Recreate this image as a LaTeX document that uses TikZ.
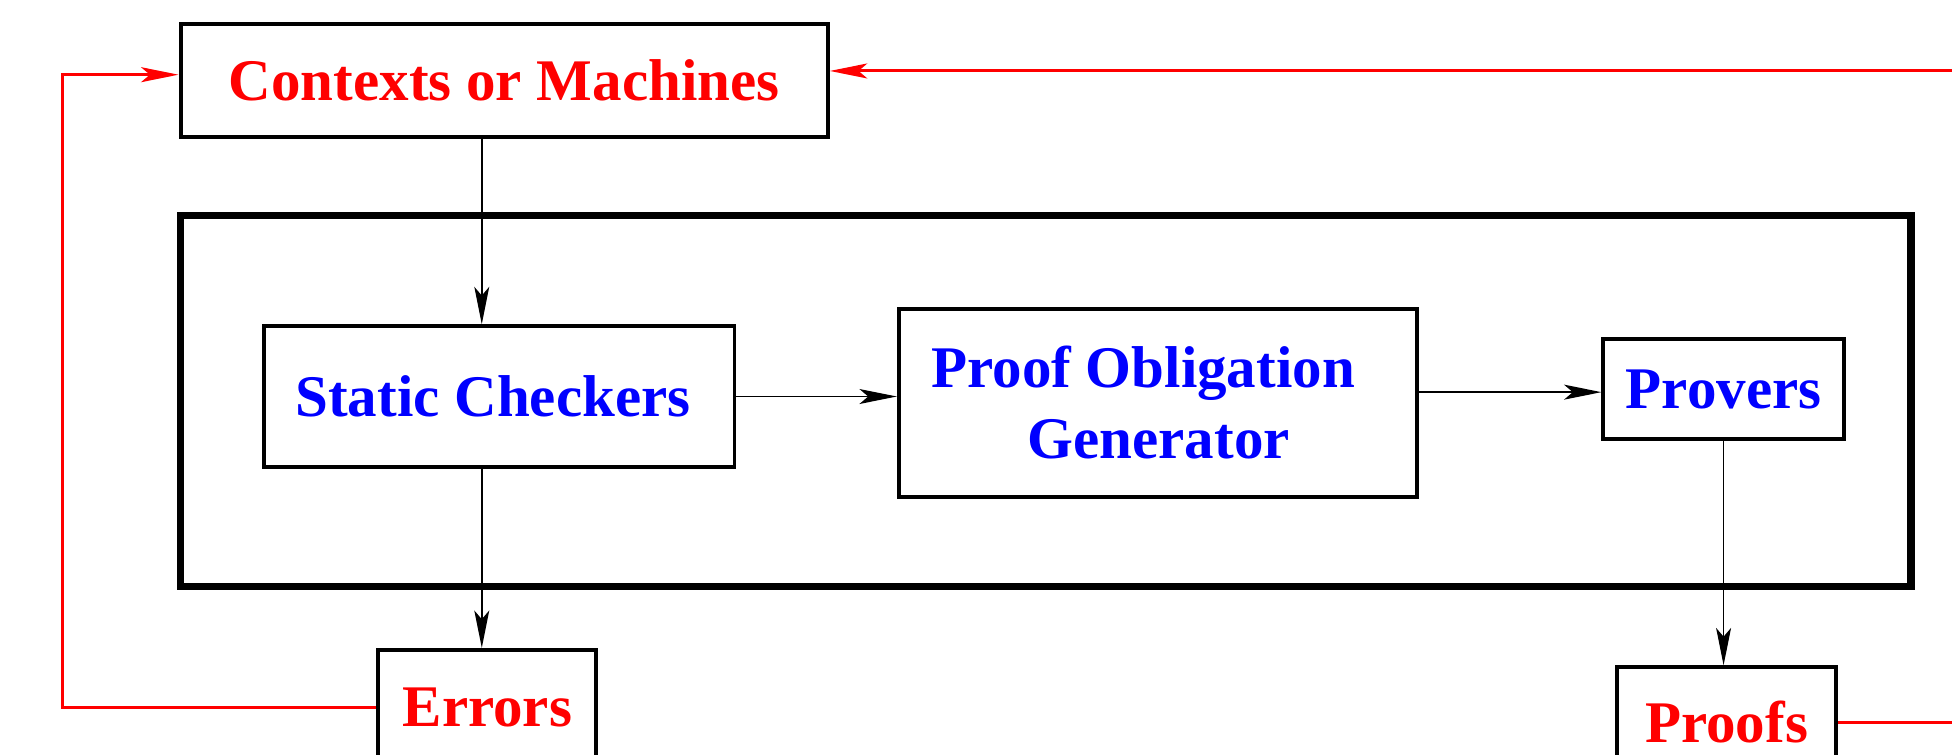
\documentclass[tikz,border=0pt]{standalone}
\usepackage{fontspec}
\setmainfont{Liberation Serif}
\usetikzlibrary{arrows.meta}
\definecolor{lblred}{RGB}{255,0,0}
\definecolor{lblblue}{RGB}{0,0,255}
\tikzset{
  box/.style={draw, line width=1.6pt, inner sep=0pt, align=center,
    font=\fontsize{23.7}{28.5}\selectfont\bfseries},
  outerbox/.style={box, text=lblred},
  innerbox/.style={box, text=lblblue},
  frame/.style={draw, line width=3pt, inner sep=0pt},
  tip/.style={-{Stealth[length=15pt,width=6pt,inset=3.5pt]}},
  flow/.style={draw=black, line width=0.7pt, tip},
  feedback/.style={draw=lblred, line width=1.2pt, tip},
}
\newcommand{\padw}[1]{\rule{#1}{0pt}}
\begin{document}
\begin{tikzpicture}[x=0.5pt,y=-0.5pt]
\useasboundingbox (0,0) rectangle (1568,606);
\clip (0,0) rectangle (1568,606);

% tool frame
\node[frame, minimum width=695pt, minimum height=149pt] (tool) at (840,322) {};

% inputs and outputs
\node[outerbox, minimum width=260pt, minimum height=45.5pt] (ctx) at (405,64.5) {Contexts or Machines};
\node[outerbox, minimum width=87.5pt, minimum height=46pt] (err) at (391.5,568) {Errors};
\node[outerbox, minimum width=88pt, minimum height=44pt] (proofs) at (1387,580) {Proofs};

% tool components
\node[innerbox, minimum width=189pt, minimum height=56.5pt] (sc) at (401,318.5) {Static Checkers\padw{5pt}};
\node[innerbox, minimum width=208pt, minimum height=75.5pt] (pog) at (930,323.5)
  {Proof Obligation\padw{11.75pt}\\\padw{0.75pt}Generator};
\node[innerbox, minimum width=96.5pt, minimum height=40.5pt] (prov) at (1384.5,312.5) {Provers};

% routing points
\coordinate (col) at (387,0);
\coordinate (retR) at (1640,57);
\coordinate (retL) at (50,60);

% main flow
\draw[flow] (ctx.south -| col) -- (sc.north -| col);
\draw[flow] (sc.south -| col) -- (err.north -| col);
\draw[flow] (sc.east) -- (pog.west |- sc.east);
\draw[flow] ([yshift=-1.25pt]pog.east |- prov.west) -- ([yshift=-1.25pt]prov.west);
\draw[flow] (prov.south) -- (proofs.north -| prov.south);

% feedback loops
\draw[feedback] (proofs.east) -| (retR) -- (ctx.east |- retR);
\draw[feedback] (err.west) -| (retL) -- (ctx.west |- retL);
\end{tikzpicture}
\end{document}
